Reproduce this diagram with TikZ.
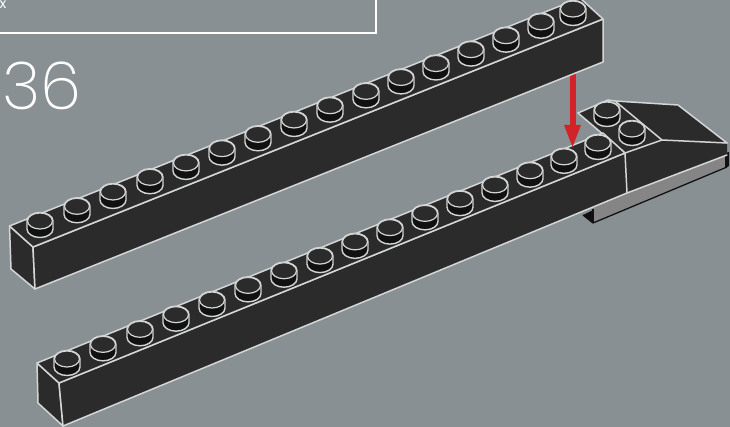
\documentclass[tikz,border=0pt]{standalone}
\usepackage{fontspec}
\newfontfamily\numfont{Poppins ExtraLight}
\setmainfont{Poppins}
\definecolor{bg}{HTML}{899094}
\definecolor{brick}{HTML}{2B2B2B}
\definecolor{band}{HTML}{111111}
\definecolor{edge}{HTML}{D4D6D6}
\definecolor{arrowred}{HTML}{D2232A}
\definecolor{under}{HTML}{858585}
\tikzset{
  face/.style={fill=brick,draw=edge,line width=1.5pt,line join=round},
  crease/.style={draw=edge,line width=1.5pt,line cap=round},
  frame/.style={draw=white,line width=2.4pt},
  studrim/.style={fill=band,draw=edge,line width=1.4pt},
  studtop/.style={fill=brick,draw=edge,line width=1.2pt}
}
\newcommand{\studat}[2]{%
  \draw[studrim] (#1-13,#2) -- (#1-13,#2+8) arc[start angle=180,end angle=0,x radius=13,y radius=8.5] -- (#1+13,#2) arc[start angle=0,end angle=-180,x radius=13,y radius=8.5] -- cycle;
  \draw[studtop] (#1,#2) ellipse[x radius=12.5,y radius=8];
}
\begin{document}
\begin{tikzpicture}[x=1pt,y=-1pt]
\useasboundingbox (0,0) rectangle (730,427);
\fill[bg] (0,0) rectangle (730,427);
% panel
\draw[frame] (0,33) -- (376,33) -- (376,0);
\node[white,font=\fontsize{14}{14}\selectfont,inner sep=0pt] (mark) at (3,4.5) {x};
\node[white,font=\numfont\fontsize{66}{66}\selectfont,anchor=base west,inner sep=0pt] (num) at (2,110) {36};
% arrow shaft first, behind upper brick
\fill[arrowred] (570,60) rectangle (575.5,128);
% upper brick
\draw[face] (9.5,226) -- (33,247) -- (35,289) -- (11,269) -- cycle;
\draw[face] (33,247) -- (603,19) -- (603,62) -- (35,289) -- cycle;
\draw[face] (9.5,226) -- (580,-2) -- (603,19) -- (33,247) -- cycle;
\foreach \sx in {40,77,113,150,186,222,258,294,330,366,401,436,471,506,541,573}{
  \pgfmathsetmacro{\sy}{221-(\sx-40)*0.3977}
  \studat{\sx}{\sy}
}
% lower-right assembly: under part
\fill[band] (583,215) -- (593,210) -- (593,223) -- cycle;
\fill[under] (593,208) -- (627,193) -- (726,155) -- (726,166) -- (593,222) -- cycle;
\draw[band,line width=1.3pt] (583,215) -- (593,223) -- (727,167);
\draw[band,line width=1.3pt] (593,209) -- (593,223);
\fill[band] (725,153) -- (729,152) -- (729,166) -- (725,168) -- cycle;
% wedge
\fill[brick] (578,113) -- (608,100) -- (615,101) -- (678,105) -- (727,143) -- (727,155) -- (627,193) -- (625,153) -- cycle;
\draw[crease] (578,113) -- (608,100) -- (615,101) -- (678,105) -- (727,143);
\draw[crease] (727,155) -- (627,193);
\draw[crease] (615,101) -- (662,140) -- (727,143);
\draw[crease] (625,153) -- (662,140);
\draw[crease] (578,113) -- (625,153);
\studat{607}{110}
\studat{632}{129}
% lower brick
\draw[face] (37,363) -- (59,383) -- (63,426) -- (38,403) -- cycle;
\draw[face] (59,383) -- (625,153) -- (627,193) -- (63,426) -- cycle;
\draw[face] (37,363) -- (603,133) -- (625,153) -- (59,383) -- cycle;
\fill[arrowred] (564,125) -- (581,125) -- (572.5,147) -- cycle;
\foreach \sx in {67,103,140,176,212,248,284,320,355,390,425,460,495,530,564,598}{
  \pgfmathsetmacro{\sy}{359-(\sx-67)*0.4068}
  \studat{\sx}{\sy}
}
\end{tikzpicture}
\end{document}
